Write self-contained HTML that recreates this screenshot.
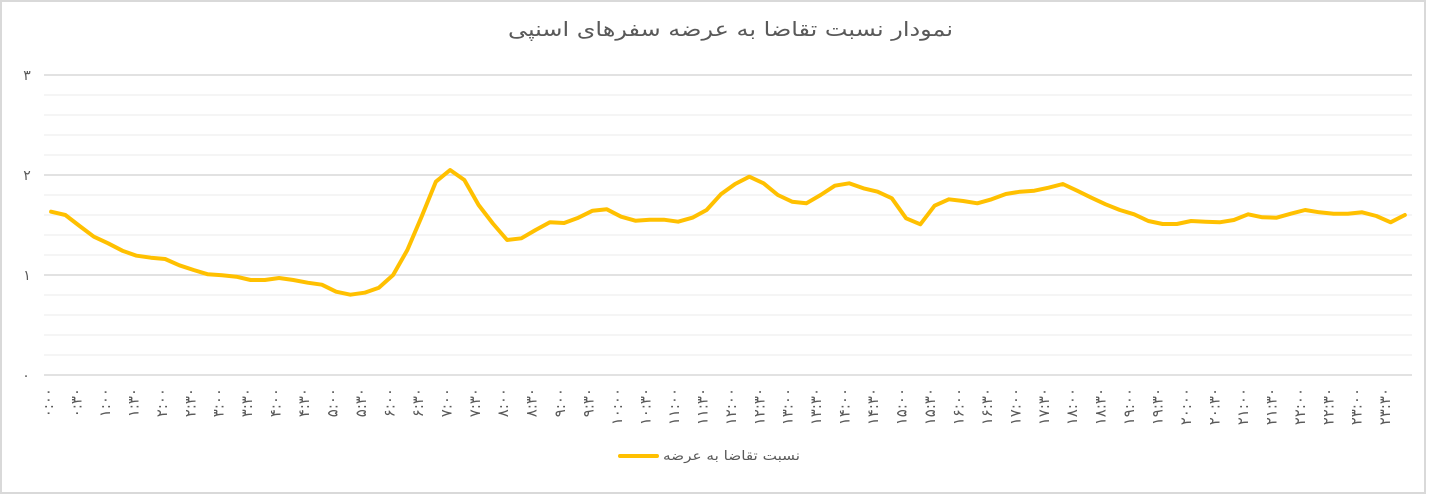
<!DOCTYPE html>
<html>
<head>
<meta charset="utf-8">
<style>
html,body{margin:0;padding:0;background:#fff;}
svg{display:block;}
text{font-family:"DejaVu Sans","Liberation Sans",sans-serif;fill:#595959;}
</style>
</head>
<body>
<svg width="1430" height="495" viewBox="0 0 1430 495" xmlns="http://www.w3.org/2000/svg">
<rect x="0" y="0" width="1430" height="495" fill="#fff"/>
<rect x="1" y="1" width="1424" height="492" fill="#fff" stroke="#d9d9d9" stroke-width="2"/>

<text x="730.5" y="36" font-size="20" text-anchor="middle" direction="rtl" textLength="445" lengthAdjust="spacingAndGlyphs">نمودار نسبت تقاضا به عرضه سفرهای اسنپی</text>

<g stroke="#f2f2f2" stroke-width="1.5">
<line x1="44" x2="1412" y1="95" y2="95"/>
<line x1="44" x2="1412" y1="115" y2="115"/>
<line x1="44" x2="1412" y1="135" y2="135"/>
<line x1="44" x2="1412" y1="155" y2="155"/>
<line x1="44" x2="1412" y1="195" y2="195"/>
<line x1="44" x2="1412" y1="215" y2="215"/>
<line x1="44" x2="1412" y1="235" y2="235"/>
<line x1="44" x2="1412" y1="255" y2="255"/>
<line x1="44" x2="1412" y1="295" y2="295"/>
<line x1="44" x2="1412" y1="315" y2="315"/>
<line x1="44" x2="1412" y1="335" y2="335"/>
<line x1="44" x2="1412" y1="355" y2="355"/>
</g>
<g stroke="#d9d9d9" stroke-width="1.5">
<line x1="44" x2="1412" y1="75" y2="75"/>
<line x1="44" x2="1412" y1="175" y2="175"/>
<line x1="44" x2="1412" y1="275" y2="275"/>
<line x1="44" x2="1412" y1="375" y2="375"/>
</g>

<g font-size="14" text-anchor="middle">
<text x="27" y="80">۳</text>
<text x="27" y="180">۲</text>
<text x="27" y="280">۱</text>
<text x="26" y="380">۰</text>
</g>

<polyline fill="none" stroke="#FFC000" stroke-width="4" stroke-linejoin="round" stroke-linecap="round" points="
51.1,211.7 65.35,215 79.6,226 93.85,236.7 108.1,243.3 122.35,250.7 136.6,255.7 150.85,257.7 165.1,259 179.35,265.3
193.6,270 207.85,274.3 222.1,275.3 236.35,276.7 250.6,280 264.85,280 279.1,278 293.35,280 307.6,282.7 321.85,284.7
336.1,291.7 350.35,294.7 364.6,292.7 378.85,287.7 393.1,275 407.35,250 421.6,216.7 435.85,181.7 450.1,170 464.35,180
478.6,205 492.85,223.5 507.1,240 521.35,238.3 535.6,230 549.85,222.3 564.1,223 578.35,217.7 592.6,210.7 606.85,209.3
621.1,216.7 635.35,220.7 649.6,219.7 663.85,219.7 678.1,221.7 692.35,217.7 706.6,210 720.85,194.3 735.1,184 749.35,176.7
763.6,183.3 777.85,195 792.1,201.7 806.35,203.3 820.6,195 834.85,185.7 849.1,183.3 863.35,188.3 877.6,191.7 891.85,198.3
906.1,218.3 920.35,224.3 934.6,205.7 948.85,199.3 963.1,201 977.35,203.3 991.6,199.3 1005.85,194 1020.1,191.7 1034.35,190.7
1048.6,187.7 1062.85,184 1077.1,190.7 1091.35,197.7 1105.6,204.3 1119.85,210 1134.1,214.3 1148.35,221 1162.6,224 1176.85,224
1191.1,221 1205.35,221.7 1219.6,222.3 1233.85,220 1248.1,214.3 1262.35,217.3 1276.6,217.7 1290.85,213.7 1305.1,210 1319.35,212.3
1333.6,213.7 1347.85,213.7 1362.1,212.3 1376.35,216 1390.6,222.3 1404.85,215"/>

<g font-size="15" letter-spacing="1.5" text-anchor="end" direction="ltr">
<text transform="translate(53,388) rotate(-90)">۰:۰۰</text>
<text transform="translate(81.45,388) rotate(-90)">۰:۳۰</text>
<text transform="translate(109.9,388) rotate(-90)">۱:۰۰</text>
<text transform="translate(138.35,388) rotate(-90)">۱:۳۰</text>
<text transform="translate(166.8,388) rotate(-90)">۲:۰۰</text>
<text transform="translate(195.25,388) rotate(-90)">۲:۳۰</text>
<text transform="translate(223.7,388) rotate(-90)">۳:۰۰</text>
<text transform="translate(252.15,388) rotate(-90)">۳:۳۰</text>
<text transform="translate(280.6,388) rotate(-90)">۴:۰۰</text>
<text transform="translate(309.05,388) rotate(-90)">۴:۳۰</text>
<text transform="translate(337.5,388) rotate(-90)">۵:۰۰</text>
<text transform="translate(365.95,388) rotate(-90)">۵:۳۰</text>
<text transform="translate(394.4,388) rotate(-90)">۶:۰۰</text>
<text transform="translate(422.85,388) rotate(-90)">۶:۳۰</text>
<text transform="translate(451.3,388) rotate(-90)">۷:۰۰</text>
<text transform="translate(479.75,388) rotate(-90)">۷:۳۰</text>
<text transform="translate(508.2,388) rotate(-90)">۸:۰۰</text>
<text transform="translate(536.65,388) rotate(-90)">۸:۳۰</text>
<text transform="translate(565.1,388) rotate(-90)">۹:۰۰</text>
<text transform="translate(593.55,388) rotate(-90)">۹:۳۰</text>
<text transform="translate(622,388) rotate(-90)">۱۰:۰۰</text>
<text transform="translate(650.45,388) rotate(-90)">۱۰:۳۰</text>
<text transform="translate(678.9,388) rotate(-90)">۱۱:۰۰</text>
<text transform="translate(707.35,388) rotate(-90)">۱۱:۳۰</text>
<text transform="translate(735.8,388) rotate(-90)">۱۲:۰۰</text>
<text transform="translate(764.25,388) rotate(-90)">۱۲:۳۰</text>
<text transform="translate(792.7,388) rotate(-90)">۱۳:۰۰</text>
<text transform="translate(821.15,388) rotate(-90)">۱۳:۳۰</text>
<text transform="translate(849.6,388) rotate(-90)">۱۴:۰۰</text>
<text transform="translate(878.05,388) rotate(-90)">۱۴:۳۰</text>
<text transform="translate(906.5,388) rotate(-90)">۱۵:۰۰</text>
<text transform="translate(934.95,388) rotate(-90)">۱۵:۳۰</text>
<text transform="translate(963.4,388) rotate(-90)">۱۶:۰۰</text>
<text transform="translate(991.85,388) rotate(-90)">۱۶:۳۰</text>
<text transform="translate(1020.3,388) rotate(-90)">۱۷:۰۰</text>
<text transform="translate(1048.75,388) rotate(-90)">۱۷:۳۰</text>
<text transform="translate(1077.2,388) rotate(-90)">۱۸:۰۰</text>
<text transform="translate(1105.65,388) rotate(-90)">۱۸:۳۰</text>
<text transform="translate(1134.1,388) rotate(-90)">۱۹:۰۰</text>
<text transform="translate(1162.55,388) rotate(-90)">۱۹:۳۰</text>
<text transform="translate(1191,388) rotate(-90)">۲۰:۰۰</text>
<text transform="translate(1219.45,388) rotate(-90)">۲۰:۳۰</text>
<text transform="translate(1247.9,388) rotate(-90)">۲۱:۰۰</text>
<text transform="translate(1276.35,388) rotate(-90)">۲۱:۳۰</text>
<text transform="translate(1304.8,388) rotate(-90)">۲۲:۰۰</text>
<text transform="translate(1333.25,388) rotate(-90)">۲۲:۳۰</text>
<text transform="translate(1361.7,388) rotate(-90)">۲۳:۰۰</text>
<text transform="translate(1390.15,388) rotate(-90)">۲۳:۳۰</text>
</g>

<line x1="620" x2="657" y1="456" y2="456" stroke="#FFC000" stroke-width="4" stroke-linecap="round"/>
<text x="731.5" y="460" font-size="13" text-anchor="middle" direction="rtl" textLength="137" lengthAdjust="spacingAndGlyphs">نسبت تقاضا به عرضه</text>
</svg>
</body>
</html>
